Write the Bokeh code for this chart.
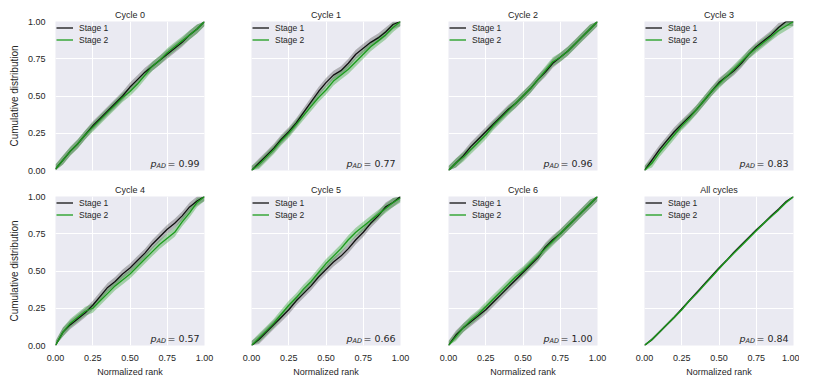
from bokeh.plotting import figure
from bokeh.layouts import column, row
from bokeh.models import Range1d, FixedTicker, Legend, LegendItem, Label
from bokeh.embed import file_html
from bokeh.resources import INLINE

# ---------------- data ----------------
ranks = [0.0, 0.05, 0.10, 0.15, 0.20, 0.25, 0.30, 0.35, 0.40, 0.45, 0.50,
         0.55, 0.60, 0.65, 0.70, 0.75, 0.80, 0.85, 0.90, 0.95, 1.0]

cycle0_stage1 = [0.01, 0.07, 0.13, 0.18, 0.24, 0.30, 0.35, 0.40, 0.45, 0.50, 0.56,
                 0.61, 0.66, 0.70, 0.74, 0.78, 0.82, 0.86, 0.91, 0.95, 1.00]
cycle0_stage2 = [0.01, 0.07, 0.13, 0.18, 0.24, 0.29, 0.34, 0.39, 0.44, 0.49, 0.53,
                 0.58, 0.64, 0.70, 0.74, 0.79, 0.83, 0.87, 0.91, 0.95, 1.00]

cycle1_stage1 = [0.00, 0.05, 0.10, 0.15, 0.21, 0.26, 0.32, 0.39, 0.46, 0.53, 0.59,
                 0.64, 0.67, 0.72, 0.78, 0.82, 0.86, 0.89, 0.93, 0.98, 1.00]
cycle1_stage2 = [0.00, 0.04, 0.09, 0.14, 0.20, 0.25, 0.31, 0.37, 0.43, 0.49, 0.54,
                 0.60, 0.64, 0.68, 0.73, 0.78, 0.83, 0.87, 0.91, 0.96, 1.00]

cycle2_stage1 = [0.00, 0.05, 0.10, 0.16, 0.21, 0.26, 0.31, 0.36, 0.41, 0.45, 0.50,
                 0.55, 0.61, 0.66, 0.72, 0.76, 0.80, 0.85, 0.90, 0.95, 1.00]
cycle2_stage2 = [0.00, 0.05, 0.09, 0.14, 0.19, 0.24, 0.30, 0.35, 0.40, 0.45, 0.50,
                 0.55, 0.61, 0.67, 0.73, 0.76, 0.80, 0.85, 0.90, 0.95, 1.00]

cycle3_stage1 = [0.00, 0.07, 0.14, 0.20, 0.26, 0.31, 0.36, 0.41, 0.47, 0.53, 0.59,
                 0.63, 0.67, 0.72, 0.78, 0.83, 0.87, 0.91, 0.96, 1.00, 1.00]
cycle3_stage2 = [0.00, 0.05, 0.12, 0.18, 0.24, 0.30, 0.35, 0.41, 0.47, 0.53, 0.58,
                 0.63, 0.68, 0.73, 0.78, 0.82, 0.86, 0.90, 0.94, 0.97, 1.00]

cycle4_stage1 = [0.00, 0.09, 0.14, 0.18, 0.22, 0.27, 0.33, 0.39, 0.43, 0.48, 0.52,
                 0.57, 0.62, 0.68, 0.73, 0.78, 0.82, 0.87, 0.93, 0.97, 1.00]
cycle4_stage2 = [0.00, 0.09, 0.15, 0.19, 0.23, 0.25, 0.30, 0.35, 0.40, 0.44, 0.48,
                 0.53, 0.58, 0.63, 0.68, 0.72, 0.76, 0.83, 0.89, 0.96, 1.00]

cycle5_stage1 = [0.00, 0.04, 0.09, 0.14, 0.19, 0.24, 0.30, 0.35, 0.40, 0.46, 0.51,
                 0.56, 0.60, 0.65, 0.71, 0.76, 0.82, 0.87, 0.93, 0.96, 1.00]
cycle5_stage2 = [0.00, 0.05, 0.10, 0.15, 0.21, 0.27, 0.32, 0.38, 0.43, 0.49, 0.55,
                 0.60, 0.65, 0.71, 0.76, 0.80, 0.84, 0.88, 0.92, 0.96, 0.99]

cycle6_stage1 = [0.00, 0.07, 0.12, 0.16, 0.20, 0.24, 0.29, 0.34, 0.39, 0.44, 0.49,
                 0.54, 0.59, 0.66, 0.71, 0.75, 0.80, 0.85, 0.90, 0.95, 1.00]
cycle6_stage2 = [0.00, 0.06, 0.12, 0.17, 0.21, 0.26, 0.31, 0.36, 0.41, 0.46, 0.50,
                 0.55, 0.60, 0.65, 0.70, 0.75, 0.80, 0.85, 0.90, 0.95, 1.00]

all_stage1 = [0.00, 0.04, 0.09, 0.14, 0.19, 0.245, 0.30, 0.355, 0.41, 0.465, 0.52,
              0.57, 0.625, 0.675, 0.725, 0.775, 0.82, 0.87, 0.915, 0.965, 1.00]
all_stage2 = [0.00, 0.04, 0.09, 0.14, 0.19, 0.24, 0.30, 0.35, 0.405, 0.46, 0.515,
              0.57, 0.62, 0.67, 0.72, 0.77, 0.82, 0.865, 0.91, 0.96, 1.00]

titles = ["Cycle 0", "Cycle 1", "Cycle 2", "Cycle 3",
          "Cycle 4", "Cycle 5", "Cycle 6", "All cycles"]
p_values = ["0.99", "0.77", "0.96", "0.83", "0.57", "0.66", "1.00", "0.84"]
band_half = [0.03, 0.03, 0.03, 0.03, 0.03, 0.03, 0.03, 0.009]
series_names = ["Stage 1", "Stage 2"]

tick_values = [0.0, 0.25, 0.5, 0.75, 1.0]
tick_labels = ["0.00", "0.25", "0.50", "0.75", "1.00"]

stage1_all = [cycle0_stage1, cycle1_stage1, cycle2_stage1, cycle3_stage1,
              cycle4_stage1, cycle5_stage1, cycle6_stage1, all_stage1]
stage2_all = [cycle0_stage2, cycle1_stage2, cycle2_stage2, cycle3_stage2,
              cycle4_stage2, cycle5_stage2, cycle6_stage2, all_stage2]

# ---------------- style ----------------
BG = "#EAEAF2"
TXT = "#262626"
C1 = "#111111"
C2 = "#1c9c1c"
SANS = "Liberation Sans"
MATH = "DejaVu Sans"

FRAME = 149
left_borders = [55, 23, 24, 23]
right_borders = [24, 24, 24, 6]
top_borders = [21, 16]
bottom_borders = [10, 28]


def make_panel(i):
    r, c = divmod(i, 4)
    p = figure(frame_width=FRAME, frame_height=FRAME,
               x_range=Range1d(0, 1), y_range=Range1d(0, 1),
               output_backend="svg", toolbar_location=None,
               min_border_left=left_borders[c], min_border_right=right_borders[c],
               min_border_top=top_borders[r], min_border_bottom=bottom_borders[r],
               background_fill_color=BG, border_fill_color="white",
               outline_line_color=None, title=titles[i])
    p.title.align = "center"
    p.title.text_font = SANS
    p.title.text_font_size = "9px"
    p.title.text_font_style = "normal"
    p.title.text_color = TXT
    p.title.standoff = 3
    p.title.offset = 0

    for ax in (p.xaxis[0], p.yaxis[0]):
        ax.ticker = FixedTicker(ticks=tick_values)
        ax.major_label_overrides = {v: s for v, s in zip(tick_values, tick_labels)}
        ax.axis_line_color = None
        ax.major_tick_line_color = None
        ax.minor_tick_line_color = None
        ax.major_label_text_font = SANS
        ax.major_label_text_font_size = "9px"
        ax.major_label_text_color = TXT
        ax.axis_label_text_font = SANS
        ax.axis_label_text_font_style = "normal"
        ax.axis_label_text_color = TXT
    p.xaxis.major_label_standoff = 3
    p.yaxis.major_label_standoff = 4
    p.xaxis.axis_label_text_font_size = "9px"
    p.yaxis.axis_label_text_font_size = "10px"
    p.xaxis.axis_label_standoff = 3
    p.yaxis.axis_label_standoff = 5

    if c == 0:
        p.yaxis.axis_label = "Cumulative distribution"
    else:
        p.yaxis.visible = False
    if r == 1:
        p.xaxis.axis_label = "Normalized rank"
    else:
        p.xaxis.visible = False

    p.xgrid.grid_line_color = "white"
    p.ygrid.grid_line_color = "white"
    p.xgrid.grid_line_width = 1
    p.ygrid.grid_line_width = 1

    hw = band_half[i]
    y1 = stage1_all[i]
    y2 = stage2_all[i]
    lo1 = [max(0.0, v - hw) for v in y1]
    hi1 = [min(1.0, v + hw) for v in y1]
    lo2 = [max(0.0, v - hw) for v in y2]
    hi2 = [min(1.0, v + hw) for v in y2]

    p.varea(x=ranks, y1=lo1, y2=hi1, fill_color="#444444", fill_alpha=0.35)
    p.varea(x=ranks, y1=lo2, y2=hi2, fill_color=C2, fill_alpha=0.35)
    l1 = p.line(ranks, y1, line_color=C1, line_width=1.3)
    l2 = p.line(ranks, y2, line_color=C2, line_width=1.3)

    legend = Legend(items=[LegendItem(label=series_names[0], renderers=[l1]),
                           LegendItem(label=series_names[1], renderers=[l2])],
                    location="top_left", background_fill_alpha=0,
                    border_line_color=None, label_text_font=SANS,
                    label_text_font_size="8.5px", label_text_color=TXT,
                    glyph_width=17, glyph_height=11, label_height=11,
                    label_standoff=6, spacing=1, padding=3, margin=1)
    p.add_layout(legend, "center")

    # p_AD annotation
    p.add_layout(Label(x=1, y=0, x_offset=-54, y_offset=7, text="p",
                       text_font=MATH, text_font_style="italic",
                       text_font_size="9.5px", text_color=TXT,
                       text_baseline="alphabetic"))
    p.add_layout(Label(x=1, y=0, x_offset=-48, y_offset=5, text="AD",
                       text_font=MATH, text_font_style="italic",
                       text_font_size="6.5px", text_color=TXT,
                       text_baseline="alphabetic"))
    p.add_layout(Label(x=1, y=0, x_offset=-37, y_offset=7,
                       text="= " + p_values[i],
                       text_font=MATH, text_font_size="9.5px", text_color=TXT,
                       text_baseline="alphabetic"))
    return p


panels = [make_panel(i) for i in range(8)]
layout = column(row(*panels[:4]), row(*panels[4:]))

open("out.html", "w").write(file_html(layout, INLINE))
